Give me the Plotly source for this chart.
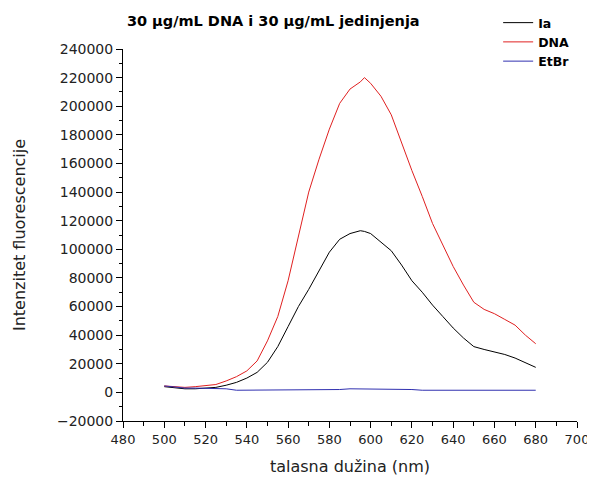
import plotly.graph_objects as go

# wavelengths (nm)
wavelength = [500, 505, 510, 515, 520, 525, 530, 535, 540, 545, 550, 555, 560,
              565, 570, 575, 580, 585, 590, 595, 597, 600, 605, 610, 615, 620,
              625, 630, 635, 640, 645, 650, 655, 660, 665, 670, 675, 680]

ia = [4000, 3000, 2500, 2500, 3000, 3500, 5000, 7000, 10000, 14000, 21000,
      32000, 46000, 60000, 72000, 85000, 98000, 107000, 111000, 113000, 112500,
      111000, 105000, 99000, 89000, 78000, 70000, 61000, 53000, 45000, 38000,
      32000, 30000, 28500, 26500, 24000, 21000, 17500]

dna = [4500, 4000, 3500, 4000, 4500, 5500, 8000, 11000, 15000, 22000, 36000,
       53000, 78000, 109000, 140000, 163000, 184000, 202000, 212000, 217000,
       220000, 216000, 207000, 194000, 174000, 155000, 137000, 118000, 103000,
       88000, 75000, 63000, 58000, 55000, 51000, 47000, 40000, 34000]

etbr = [4500, 3500, 3000, 3000, 3000, 2500, 2500, 1500, 1500, 1500, 1500,
        1500, 1500, 2000, 1500, 2000, 2000, 2000, 2500, 2500, 2500, 2000,
        2000, 2000, 2000, 2000, 1500, 1500, 1500, 1500, 1500, 1500, 1500,
        1500, 1500, 1500, 1500, 1500]

fig = go.Figure()
fig.add_trace(go.Scatter(x=wavelength, y=ia, mode='lines', name='<b>Ia</b>',
                         line=dict(color='black', width=1)))
fig.add_trace(go.Scatter(x=wavelength, y=dna, mode='lines', name='<b>DNA</b>',
                         line=dict(color='#e02020', width=1)))
fig.add_trace(go.Scatter(x=wavelength, y=etbr, mode='lines', name='<b>EtBr</b>',
                         line=dict(color='#3030b0', width=1)))

tick_font = dict(family='DejaVu Sans', size=14, color='#222')

# page body has an 8px margin, so the figure is a bit smaller than the window
fig.update_layout(
    width=587, height=468,
    margin=dict(l=115, r=18, t=41, b=55, autoexpand=False),
    plot_bgcolor='white', paper_bgcolor='white',
    font=dict(family='DejaVu Sans', color='#111'),
    title=dict(text='<b>30 μg/mL DNA i 30 μg/mL jedinjenja</b>',
               xref='paper', x=0.331, xanchor='center',
               y=0.973, yanchor='middle',
               font=dict(family='DejaVu Sans', size=14.5, color='black')),
    legend=dict(xref='container', yref='container',
                x=0.835, y=1.006, xanchor='left', yanchor='top',
                font=dict(family='DejaVu Sans', size=12.5, color='black'),
                bgcolor='rgba(0,0,0,0)', tracegroupgap=0),
    xaxis=dict(range=[480, 700], dtick=20, tick0=480, showgrid=False,
               zeroline=False, showline=True, linecolor='black', linewidth=1,
               ticks='outside', ticklen=6, tickcolor='black',
               minor=dict(ticks='outside', ticklen=4, dtick=10, tickcolor='black'),
               tickfont=dict(family='DejaVu Sans', size=13, color='#222'),
               automargin=False, ticklabeloverflow='allow',
               title=dict(text='talasna dužina (nm)',
                          font=dict(family='DejaVu Sans', size=16, color='#222'),
                          standoff=15)),
    yaxis=dict(range=[-20000, 240000], dtick=20000, showgrid=False,
               zeroline=False, showline=True, linecolor='black', linewidth=1,
               ticks='outside', ticklen=6, tickcolor='black',
               minor=dict(ticks='outside', ticklen=3, dtick=10000, tickcolor='black'),
               tickfont=tick_font, tickformat='d', automargin=False,
               ticklabeloverflow='allow',
               title=dict(text='Intenzitet fluorescencije',
                          font=dict(family='DejaVu Sans', size=16, color='#222'),
                          standoff=27)),
)

fig.write_html("out.html")
